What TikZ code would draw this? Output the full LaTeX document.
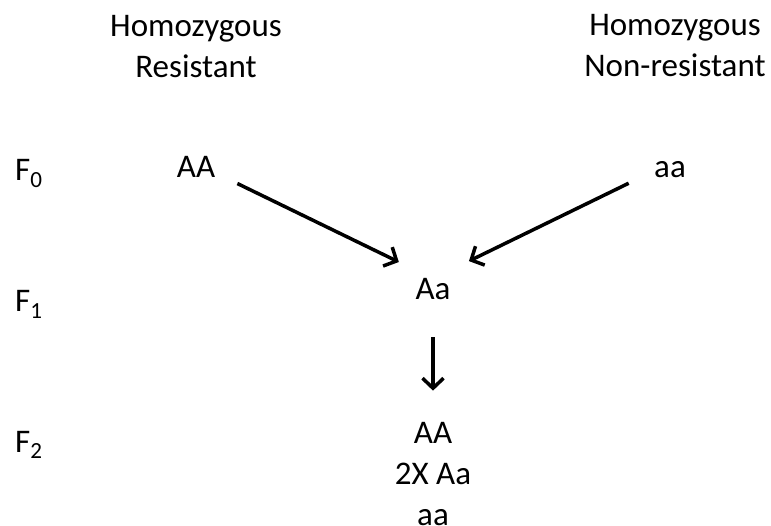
\documentclass[tikz,border=0pt]{standalone}
\usepackage{fontspec}
\setmainfont{Carlito}
\usetikzlibrary{arrows.meta}

\begin{document}
\begin{tikzpicture}[x=1pt,y=-1pt,
	every node/.style={inner sep=0pt, font=\fontsize{33}{41}\selectfont},
	flecha/.style={line width=3.5pt, -{Straight Barb[length=10pt,width=21pt]}}]
	\useasboundingbox (0,0) rectangle (771,526);

	% Padres
	\node [align=center, anchor=base] (resist) at (196,78) {Homozygous\\Resistant};
	\node [align=center, anchor=base] (noresist) at (675,77) {Homozygous\\Non-resistant};

	% Generaciones
	\node [anchor=base west] (f0) at (15,181) {F\textsubscript{0}};
	\node [anchor=base west] (f1) at (15,312) {F\textsubscript{1}};
	\node [anchor=base west] (f2) at (15,452) {F\textsubscript{2}};

	% Genotipos
	\node [anchor=base] (AA) at (196,178) {AA};
	\node [anchor=base] (aa) at (670,178) {aa};
	\node [anchor=base] (Aa) at (433,300) {Aa};
	\node [align=center, anchor=base] (hijos) at (433,525) {AA\\2X Aa\\aa};

	% Cruces
	\draw [flecha, shorten <=46pt, shorten >=38pt] ([yshift=4pt]AA.center) -- (Aa.north);
	\draw [flecha, shorten <=46pt, shorten >=40pt] ([yshift=7pt]aa.center) -- (Aa.north);
	\draw [flecha, shorten <=37pt, shorten >=31pt] (Aa.south) -- (hijos.north);
\end{tikzpicture}
\end{document}
